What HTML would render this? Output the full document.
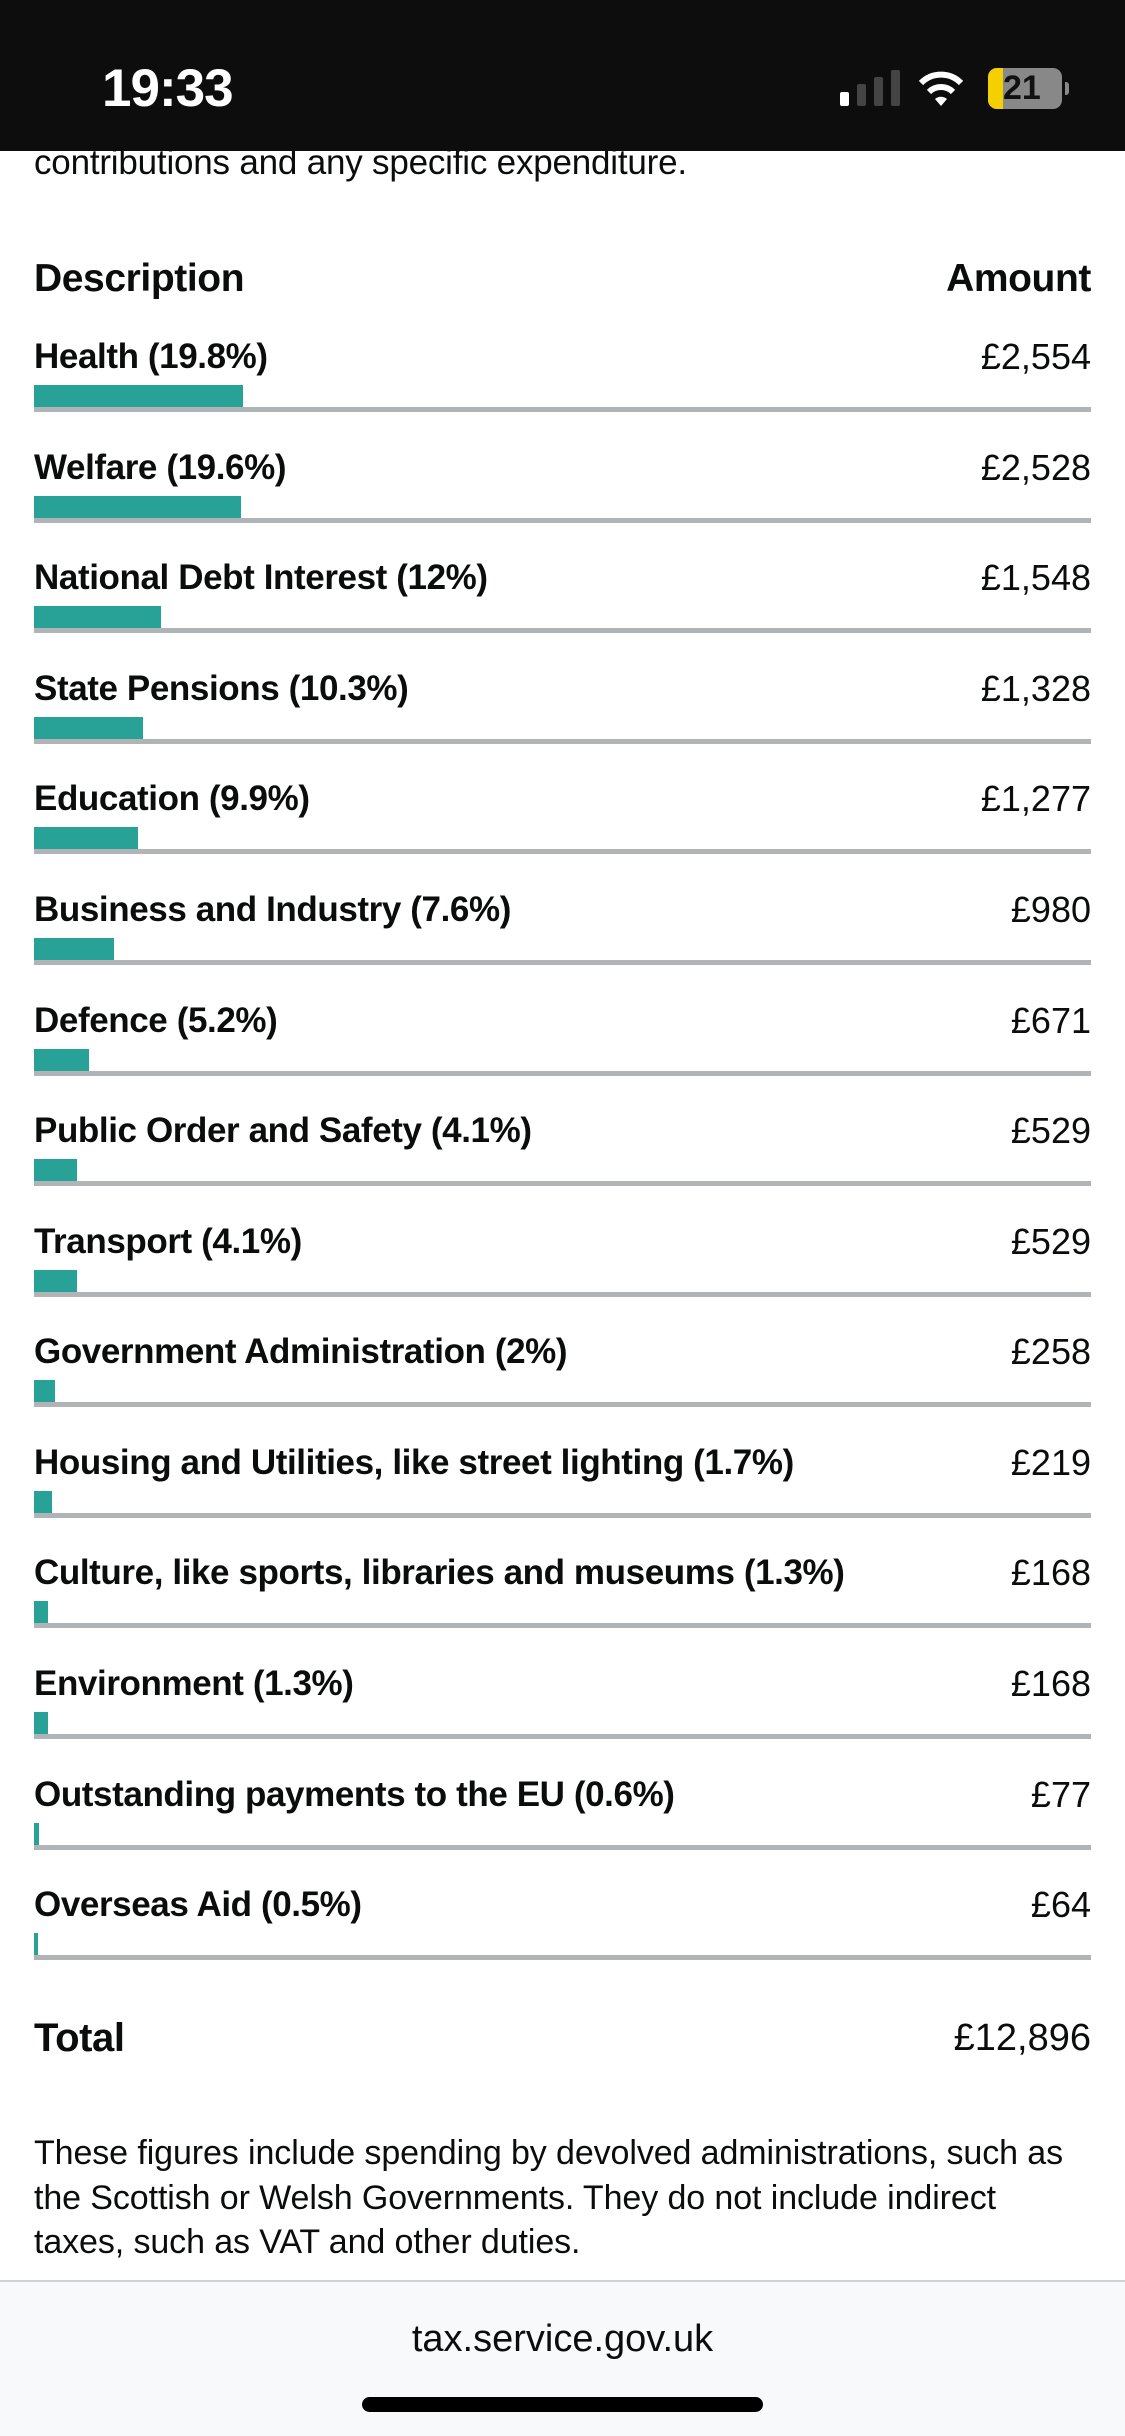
<!DOCTYPE html>
<html><head><meta charset="utf-8"><style>
*{margin:0;padding:0;box-sizing:border-box}
html,body{width:1125px;height:2436px;background:#fff;overflow:hidden;font-family:"Liberation Sans",sans-serif;color:#0b0c0c}
.abs{position:absolute}
.sb{left:0;top:0;width:1125px;height:151px;background:#0c0d0c}
.lbl{position:absolute;left:34px;font-weight:bold;font-size:35px;letter-spacing:-0.4px;line-height:40px;white-space:nowrap}
.amt{position:absolute;right:34px;font-size:36px;line-height:40px;letter-spacing:0px;text-align:right}
.bar{position:absolute;left:34px;height:22px;background:#28a197}
.ln{position:absolute;left:34px;width:1057px;height:5px;background:#b1b4b6}
</style></head><body>
<div class="abs" style="left:34px;top:143px;font-size:35px;line-height:40px;letter-spacing:-0.2px">contributions and any specific expenditure.</div>
<div class="abs sb"></div>
<div class="abs" style="left:102px;top:58px;color:#fff;font-weight:bold;font-size:53px;line-height:62px;letter-spacing:-1px">19:33</div>
<div class="abs" style="left:840px;top:92px;width:9px;height:14px;background:#fff;border-radius:2px"></div>
<div class="abs" style="left:857px;top:84px;width:9px;height:22px;background:#444;border-radius:2px"></div>
<div class="abs" style="left:874px;top:77px;width:9px;height:29px;background:#444;border-radius:2px"></div>
<div class="abs" style="left:891px;top:70px;width:9px;height:36px;background:#444;border-radius:2px"></div>
<svg class="abs" style="left:915px;top:68px" width="52" height="40" viewBox="0 0 52 40"><path d="M26 38 L20 31 A9 9 0 0 1 32 31 Z" fill="#fff"/><path d="M14 24 A17 17 0 0 1 38 24" stroke="#fff" stroke-width="6" fill="none"/><path d="M6 15 A28 28 0 0 1 46 15" stroke="#fff" stroke-width="6" fill="none"/></svg>
<div class="abs" style="left:988px;top:68px;width:74px;height:41px;background:#888;border-radius:9px;overflow:hidden"><div style="width:15px;height:41px;background:#f4d000"></div></div>
<div class="abs" style="left:1065px;top:82px;width:4px;height:13px;background:#888;border-radius:0 3px 3px 0"></div>
<div class="abs" style="left:1003px;top:68px;font-weight:bold;font-size:34px;line-height:41px;color:#111">21</div>

<div class="abs" style="left:34px;top:257px;font-weight:bold;font-size:39px;line-height:44px;letter-spacing:-0.4px">Description</div>
<div class="abs" style="right:34px;top:257px;font-weight:bold;font-size:39px;line-height:44px;letter-spacing:-0.4px">Amount</div>

<div class="lbl" style="top:337px">Health (19.8%)</div><div class="amt" style="top:337px">£2,554</div><div class="bar" style="top:385px;width:209px"></div><div class="ln" style="top:407px"></div>
<div class="lbl" style="top:448px">Welfare (19.6%)</div><div class="amt" style="top:448px">£2,528</div><div class="bar" style="top:496px;width:207px"></div><div class="ln" style="top:518px"></div>
<div class="lbl" style="top:558px">National Debt Interest (12%)</div><div class="amt" style="top:558px">£1,548</div><div class="bar" style="top:606px;width:127px"></div><div class="ln" style="top:628px"></div>
<div class="lbl" style="top:669px">State Pensions (10.3%)</div><div class="amt" style="top:669px">£1,328</div><div class="bar" style="top:717px;width:109px"></div><div class="ln" style="top:739px"></div>
<div class="lbl" style="top:779px">Education (9.9%)</div><div class="amt" style="top:779px">£1,277</div><div class="bar" style="top:827px;width:104px"></div><div class="ln" style="top:849px"></div>
<div class="lbl" style="top:890px">Business and Industry (7.6%)</div><div class="amt" style="top:890px">£980</div><div class="bar" style="top:938px;width:80px"></div><div class="ln" style="top:960px"></div>
<div class="lbl" style="top:1001px">Defence (5.2%)</div><div class="amt" style="top:1001px">£671</div><div class="bar" style="top:1049px;width:55px"></div><div class="ln" style="top:1071px"></div>
<div class="lbl" style="top:1111px">Public Order and Safety (4.1%)</div><div class="amt" style="top:1111px">£529</div><div class="bar" style="top:1159px;width:43px"></div><div class="ln" style="top:1181px"></div>
<div class="lbl" style="top:1222px">Transport (4.1%)</div><div class="amt" style="top:1222px">£529</div><div class="bar" style="top:1270px;width:43px"></div><div class="ln" style="top:1292px"></div>
<div class="lbl" style="top:1332px">Government Administration (2%)</div><div class="amt" style="top:1332px">£258</div><div class="bar" style="top:1380px;width:21px"></div><div class="ln" style="top:1402px"></div>
<div class="lbl" style="top:1443px">Housing and Utilities, like street lighting (1.7%)</div><div class="amt" style="top:1443px">£219</div><div class="bar" style="top:1491px;width:18px"></div><div class="ln" style="top:1513px"></div>
<div class="lbl" style="top:1553px">Culture, like sports, libraries and museums (1.3%)</div><div class="amt" style="top:1553px">£168</div><div class="bar" style="top:1601px;width:14px"></div><div class="ln" style="top:1623px"></div>
<div class="lbl" style="top:1664px">Environment (1.3%)</div><div class="amt" style="top:1664px">£168</div><div class="bar" style="top:1712px;width:14px"></div><div class="ln" style="top:1734px"></div>
<div class="lbl" style="top:1775px">Outstanding payments to the EU (0.6%)</div><div class="amt" style="top:1775px">£77</div><div class="bar" style="top:1823px;width:5px"></div><div class="ln" style="top:1845px"></div>
<div class="lbl" style="top:1885px">Overseas Aid (0.5%)</div><div class="amt" style="top:1885px">£64</div><div class="bar" style="top:1933px;width:4px"></div><div class="ln" style="top:1955px"></div>

<div class="abs" style="left:34px;top:2016px;font-weight:bold;font-size:40px;line-height:44px;letter-spacing:-0.4px">Total</div>
<div class="abs" style="right:34px;top:2016px;font-size:38px;line-height:44px">£12,896</div>

<div class="abs" style="left:34px;top:2131px;width:1080px;font-size:34px;line-height:44.5px;letter-spacing:-0.1px;white-space:nowrap">These figures include spending by devolved administrations, such as<br>the Scottish or Welsh Governments. They do not include indirect<br>taxes, such as VAT and other duties.</div>

<div class="abs" style="left:0;top:2280px;width:1125px;height:156px;background:#f8f9fb;border-top:2px solid #d0d2d4"></div>
<div class="abs" style="left:0;top:2317px;width:1125px;text-align:center;font-size:38px;line-height:44px">tax.service.gov.uk</div>
<div class="abs" style="left:362px;top:2397px;width:401px;height:15px;background:#000;border-radius:8px"></div>
</body></html>
